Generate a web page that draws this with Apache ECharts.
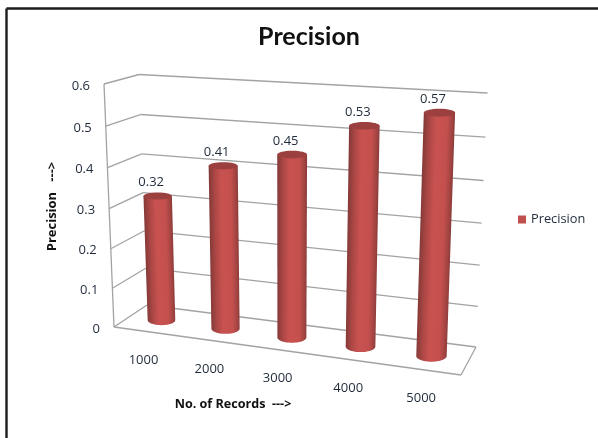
<!DOCTYPE html>
<html>
<head>
<meta charset="utf-8">
<style>html,body{margin:0;padding:0;background:#fff}#chart{width:598px;height:438px}</style>
<script src="https://cdn.jsdelivr.net/npm/echarts@6/dist/echarts.min.js"></script>
</head>
<body>
<div id="chart"></div>
<script>
// Chart data
var records = ['1000', '2000', '3000', '4000', '5000'];
var precision = [0.32, 0.41, 0.45, 0.53, 0.57];
var valueTicks = [0, 0.1, 0.2, 0.3, 0.4, 0.5, 0.6];

// Hidden cartesian scales; their pixels are normalised and then projected
var GRID = { left: 114, top: 84, width: 347, height: 243 };

// Outline of the box: floor and wall corners
var BOX = {
  frontLeftLow: [114, 327], frontRightLow: [461, 375],
  backLeftLow: [147, 305], backRightLow: [476, 347],
  frontLeftHigh: [104, 84], backLeftHigh: [139, 74.5], backRightHigh: [487.5, 93]
};
// Plane through the centres of the columns
var COLUMN_PLANE = {
  leftLow: [130.3, 315.9], rightLow: [467.8, 360.9],
  leftHigh: [121.4, 86], rightHigh: [478.3, 101.6]
};
var FONT = '"Open Sans", sans-serif';
var INK = '#1f2a3a';
var GRID_COLOR = '#a3a3a3';

function mix(a, b, t) { return [a[0] + (b[0] - a[0]) * t, a[1] + (b[1] - a[1]) * t]; }
// Foreshortening along the category direction and up the walls
function warp(u) { return u - 0.085 * u * (1 - u); }
function warpHeight(w) { return w - 0.05 * w * (1 - w); }

function normalise(api, cat, val) {
  var p = api.coord([cat, val]);
  return [(p[0] - GRID.left) / GRID.width, (GRID.top + GRID.height - p[1]) / GRID.height];
}
function onColumnPlane(u, w) {
  var t = warp(u);
  return mix(mix(COLUMN_PLANE.leftLow, COLUMN_PLANE.rightLow, t),
             mix(COLUMN_PLANE.leftHigh, COLUMN_PLANE.rightHigh, t), w);
}
function line(a, b, color, width) {
  return { type: 'line', silent: true,
    shape: { x1: a[0], y1: a[1], x2: b[0], y2: b[1] },
    style: { stroke: color, lineWidth: width } };
}
function label(text, pos, align, fontSize, weight) {
  return { type: 'text', silent: true,
    style: { text: text, x: pos[0], y: pos[1], align: align, verticalAlign: 'middle',
      fontFamily: FONT, fontSize: fontSize, fontWeight: weight || 'normal', fill: INK } };
}

// Wall gridlines, the left edge and the value labels
function renderWalls(params, api) {
  var v = api.value(0);
  var w = warpHeight(normalise(api, 0, v)[1]);
  var front = mix(BOX.frontLeftLow, BOX.frontLeftHigh, w);
  var back = mix(BOX.backLeftLow, BOX.backLeftHigh, w);
  var right = mix(BOX.backRightLow, BOX.backRightHigh, w);
  var children = [
    line(front, back, GRID_COLOR, 1.3),
    line(back, right, GRID_COLOR, 1.3),
    label(String(v), [front[0] - 14, front[1] + 2], 'right', 13)
  ];
  if (params.dataIndex === 0) {
    children.push(line(BOX.frontLeftLow, BOX.frontLeftHigh, GRID_COLOR, 1.3));
    children.push(line(BOX.frontLeftLow, BOX.frontRightLow, GRID_COLOR, 1.3));
    children.push(line(BOX.frontRightLow, BOX.backRightLow, GRID_COLOR, 1.3));
  }
  return { type: 'group', children: children };
}

// Category labels follow the front edge of the floor
function renderCategories(params, api) {
  var i = api.value(0);
  var u = warp(normalise(api, i, 0)[0]);
  var edge = mix(BOX.frontLeftLow, BOX.frontRightLow, u);
  return label(records[i], [edge[0] - 2.5, edge[1] + 28.5], 'center', 13);
}

// One cylinder per record count
function renderColumn(params, api) {
  var i = api.value(0), v = api.value(1);
  var baseN = normalise(api, i, 0), topN = normalise(api, i, v);
  var base = onColumnPlane(baseN[0], 0);
  var top = onColumnPlane(topN[0], topN[1]);
  var full = onColumnPlane(topN[0], 1);
  var scale = Math.abs(full[1] - base[1]) / 0.6;
  var rBase = scale * 0.0356;
  var rTop = rBase * 1.03;
  var ryBase = rBase * 0.37;
  var ryTop = rTop * 0.25;

  var pts = [[top[0] - rTop, top[1]], [top[0] + rTop, top[1]]];
  for (var k = 0; k <= 24; k++) {
    var a = Math.PI * k / 24;
    pts.push([base[0] + rBase * Math.cos(a), base[1] + ryBase * Math.sin(a)]);
  }
  // Shading runs across the column's own axis, which leans with the projection
  var ax = top[0] - base[0], ay = top[1] - base[1];
  var len = Math.sqrt(ax * ax + ay * ay);
  var px = -ay / len, py = ax / len;
  if (px < 0) { px = -px; py = -py; }
  var cx = (base[0] + top[0]) / 2, cy = (base[1] + top[1]) / 2;
  var r = (rBase + rTop) / 2;
  var fill = {
    type: 'linear', global: true,
    x: cx - px * r, y: cy - py * r, x2: cx + px * r, y2: cy + py * r,
    colorStops: [
      { offset: 0, color: '#843a38' },
      { offset: 0.2, color: '#ac4745' },
      { offset: 0.42, color: '#c85250' },
      { offset: 0.75, color: '#c4504e' },
      { offset: 0.92, color: '#a34442' },
      { offset: 1, color: '#8a3c3a' }
    ]
  };
  return { type: 'group', children: [
    { type: 'polygon', silent: true, shape: { points: pts }, style: { fill: fill } },
    { type: 'ellipse', silent: true,
      shape: { cx: top[0], cy: top[1], rx: rTop, ry: ryTop },
      style: { fill: '#9b403e' } },
    label(api.value(1).toFixed(2), [top[0] - 6.5, top[1] - 13.5], 'center', 13)
  ] };
}

var option = {
  animation: false,
  backgroundColor: '#ffffff',
  title: {
    text: 'Precision', left: 304, top: 19, textAlign: 'center',
    textStyle: { fontFamily: 'Lato, sans-serif', fontSize: 25, fontWeight: 'bold', color: '#111' }
  },
  legend: {
    data: [{ name: 'Precision', icon: 'rect' }],
    left: 513, top: 208, itemWidth: 8, itemHeight: 8, itemGap: 5,
    textStyle: { fontFamily: FONT, fontSize: 12.8, color: INK }, selectedMode: false
  },
  grid: GRID,
  xAxis: { type: 'category', data: records, show: false },
  yAxis: { type: 'value', min: 0, max: 0.6, interval: 0.1, show: false },
  graphic: [
    { type: 'line', shape: { x1: 6.5, y1: 8.5, x2: 598, y2: 8.5 }, style: { stroke: '#1c1c1c', lineWidth: 2.4 } },
    { type: 'line', shape: { x1: 6.5, y1: 8.5, x2: 6.5, y2: 438 }, style: { stroke: '#1c1c1c', lineWidth: 2.4 } },
    { type: 'text', x: 52, y: 206.5, rotation: Math.PI / 2, silent: true,
      style: { text: 'Precision   --->', align: 'center', verticalAlign: 'middle',
        fontFamily: FONT, fontSize: 13, fontWeight: 'bold', fill: '#111' } },
    { type: 'text', x: 233, y: 404, silent: true,
      style: { text: 'No. of Records  --->', align: 'center', verticalAlign: 'middle',
        fontFamily: FONT, fontSize: 12.6, fontWeight: 'bold', fill: '#111' } }
  ],
  series: [
    { type: 'custom', name: 'walls', silent: true, z: 1,
      coordinateSystem: 'cartesian2d', encode: { x: -1, y: 0 },
      data: valueTicks.map(function (v) { return [v]; }), renderItem: renderWalls },
    { type: 'custom', name: 'categories', silent: true, z: 1,
      coordinateSystem: 'cartesian2d', encode: { x: 0, y: -1 },
      data: records.map(function (r, i) { return [i]; }), renderItem: renderCategories },
    { type: 'custom', name: 'Precision', z: 2, silent: true,
      coordinateSystem: 'cartesian2d', encode: { x: 0, y: 1 },
      itemStyle: { color: '#c0504d' },
      data: precision.map(function (v, i) { return [i, v]; }), renderItem: renderColumn }
  ]
};
echarts.init(document.getElementById('chart')).setOption(option);
</script>
</body>
</html>
